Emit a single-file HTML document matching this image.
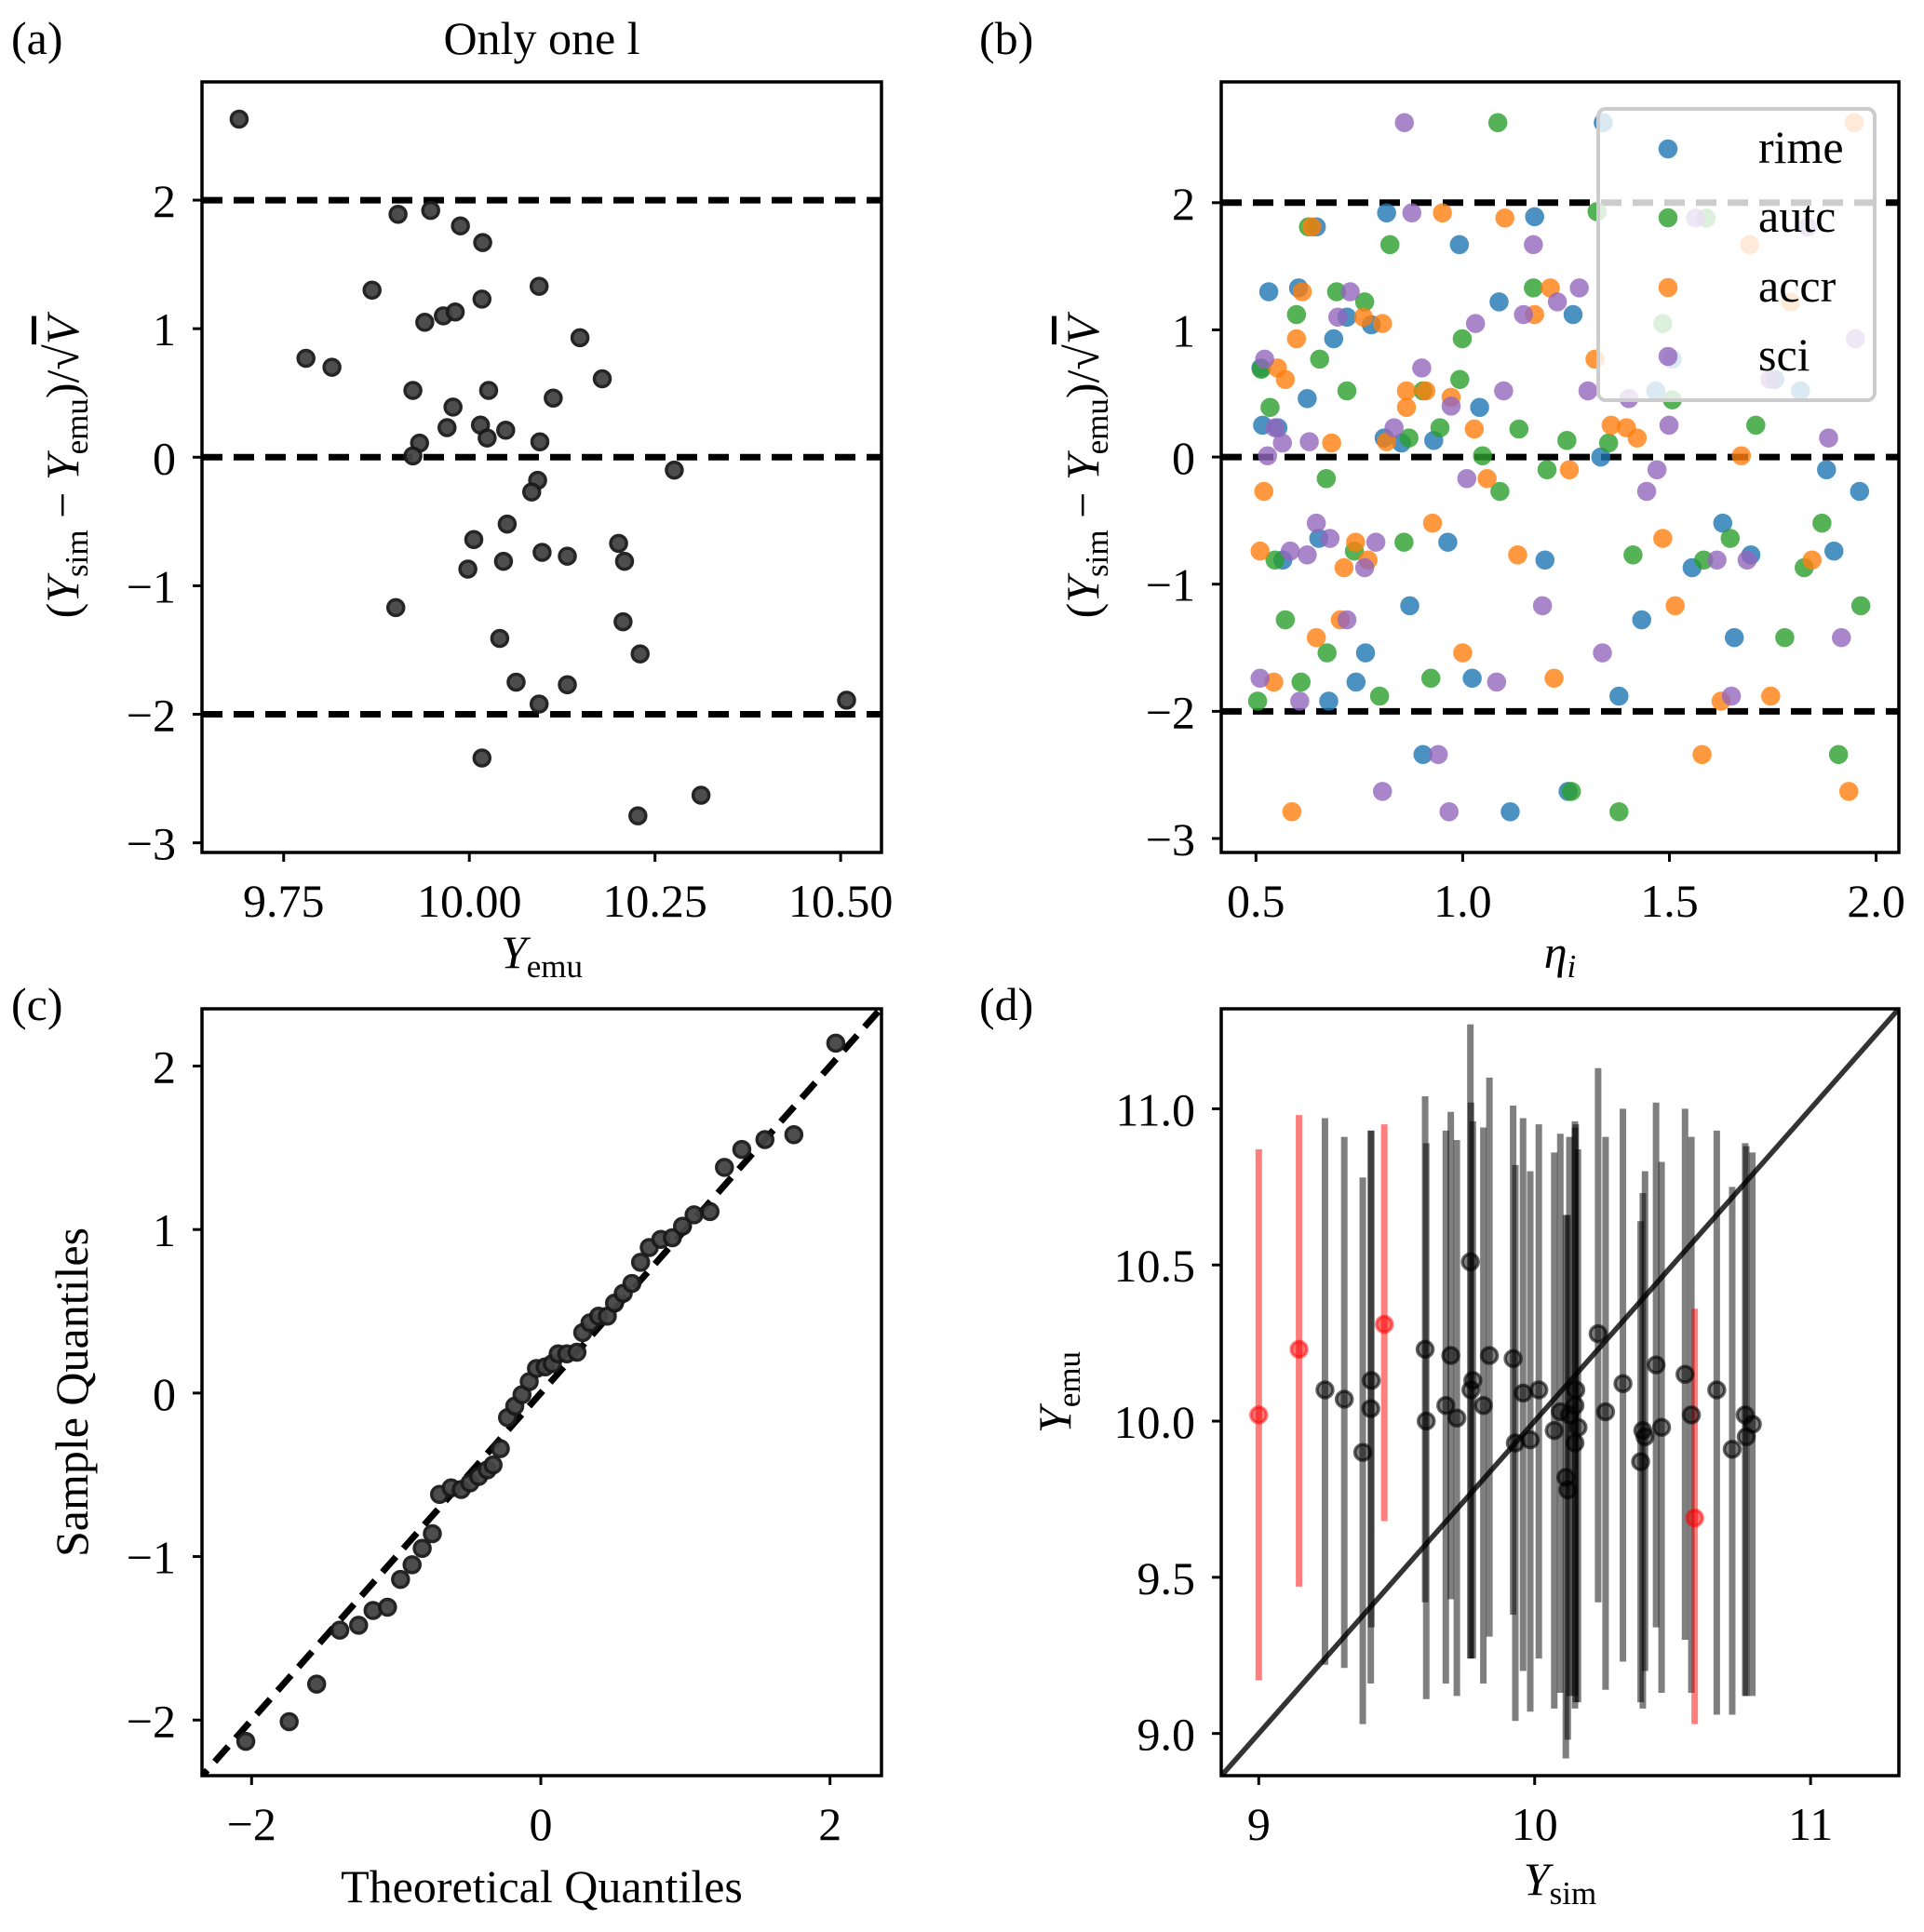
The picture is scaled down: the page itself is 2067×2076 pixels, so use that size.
<!DOCTYPE html>
<html><head><meta charset="utf-8">
<style>
html,body{margin:0;padding:0;background:#fff;}
svg{display:block;font-family:"Liberation Serif","DejaVu Serif",serif;}
</style></head>
<body>
<svg id="fig" width="2067" height="2076" viewBox="0 0 2067 2076" xmlns="http://www.w3.org/2000/svg"></svg>
<script>
// ---------- Panel (a) data ----------
const aX = [9.690,9.780,9.815,9.869,9.904,9.948,9.988,10.018,10.094,9.965,9.981,9.940,10.017,10.149,10.179,9.924,10.026,9.978,10.113,9.970,10.015,10.049,10.024,9.933,9.924,10.095,10.276,10.092,10.084,10.051,10.006,10.201,10.209,9.998,10.046,10.098,10.132,9.901,10.207,10.041,10.230,10.063,10.132,10.094,10.508,10.017,10.312,10.227];
const aY = [2.63,0.77,0.70,1.30,1.89,1.92,1.80,1.67,1.33,1.10,1.13,1.05,1.23,0.93,0.61,0.52,0.52,0.39,0.46,0.23,0.25,0.21,0.15,0.11,0.01,0.12,-0.10,-0.18,-0.27,-0.52,-0.64,-0.67,-0.81,-0.87,-0.81,-0.74,-0.77,-1.17,-1.28,-1.41,-1.53,-1.75,-1.77,-1.92,-1.89,-2.34,-2.63,-2.79];
const aXTicks = [9.75,10.00,10.25,10.50];
const aXTickLabels = ["9.75","10.00","10.25","10.50"];
const resTicks = [-3,-2,-1,0,1,2];
const resTickLabels = ["\u22123","\u22122","\u22121","0","1","2"];
const refLines = [-2,0,2];

// ---------- Panel (b) data ----------
const rimeX = [1.34,0.816,0.646,1.174,0.992,0.531,0.603,1.088,1.267,0.72,0.779,0.688,0.512,0.624,1.041,0.516,0.553,0.81,0.852,0.93,1.334,1.467,1.507,1.817,1.755,1.88,1.96,1.629,0.652,0.964,0.565,1.199,1.555,1.697,1.898,0.872,1.433,0.765,1.657,0.742,1.023,0.676,1.378,0.904,1.255,1.115];
const rimeY = [2.63,1.92,1.81,1.89,1.67,1.30,1.33,1.22,1.12,1.10,1.04,0.93,0.70,0.46,0.39,0.25,0.23,0.15,0.11,0.13,0.00,0.52,0.77,0.52,0.61,-0.10,-0.27,-0.52,-0.64,-0.67,-0.81,-0.81,-0.87,-0.77,-0.74,-1.17,-1.28,-1.54,-1.42,-1.77,-1.74,-1.92,-1.88,-2.34,-2.63,-2.79];
const autcX = [1.085,1.325,1.589,0.627,0.824,0.695,0.763,0.598,1.171,0.999,0.654,0.513,0.993,0.72,0.904,0.534,1.507,0.945,1.136,1.709,0.87,1.252,1.353,1.048,0.67,1.204,1.09,1.869,1.647,0.858,0.738,0.546,1.412,1.583,1.826,1.963,0.571,1.779,0.672,0.923,0.609,0.799,0.504,1.909,1.263,1.378,1.484];
const autcY = [2.63,1.93,1.88,1.81,1.67,1.30,1.22,1.12,1.33,0.93,0.77,0.69,0.61,0.52,0.52,0.39,0.45,0.23,0.22,0.25,0.15,0.13,0.11,0.01,-0.17,-0.10,-0.27,-0.52,-0.64,-0.67,-0.74,-0.81,-0.77,-0.81,-0.87,-1.17,-1.28,-1.42,-1.54,-1.74,-1.77,-1.88,-1.92,-2.34,-2.63,-2.79,1.05];
const accrX = [1.947,0.951,1.102,1.694,0.635,0.612,1.212,1.793,1.174,0.76,0.806,0.598,1.32,0.552,0.571,0.864,0.911,0.864,0.972,1.028,1.359,1.396,1.422,0.683,0.816,1.674,0.519,1.059,1.258,0.927,1.484,0.741,0.51,1.133,0.771,1.845,0.713,1.514,0.704,0.646,1.0,0.543,1.221,1.745,1.625,1.579,0.587,1.934];
const accrY = [2.63,1.92,1.88,1.67,1.81,1.30,1.33,1.22,1.12,1.10,1.05,0.93,0.77,0.70,0.61,0.52,0.52,0.39,0.47,0.22,0.25,0.23,0.15,0.11,0.12,0.01,-0.27,-0.17,-0.10,-0.52,-0.64,-0.67,-0.74,-0.77,-0.81,-0.81,-0.87,-1.17,-1.28,-1.42,-1.54,-1.77,-1.74,-1.88,-1.92,-2.34,-2.79,-2.63];
const sciX = [0.859,0.877,1.563,1.834,1.171,0.728,1.282,1.229,1.147,0.698,1.031,1.95,0.521,0.901,1.099,1.303,1.743,1.402,0.972,0.834,0.546,1.499,1.885,0.564,0.629,0.528,1.01,1.47,1.445,0.646,0.679,0.79,0.583,0.624,0.763,1.615,1.688,1.193,0.72,1.916,1.338,0.51,1.082,0.606,1.65,0.941,0.806,0.967];
const sciY = [2.63,1.92,1.88,1.81,1.67,1.30,1.33,1.22,1.12,1.10,1.05,0.93,0.77,0.70,0.52,0.52,0.61,0.46,0.40,0.23,0.23,0.25,0.15,0.11,0.12,0.01,-0.17,-0.10,-0.27,-0.52,-0.64,-0.67,-0.74,-0.77,-0.87,-0.81,-0.81,-1.17,-1.28,-1.42,-1.54,-1.74,-1.77,-1.92,-1.88,-2.34,-2.63,-2.79];
const seriesNames = ["rime","autc","accr","sci"];
const seriesColors = ["#1f77b4","#2ca02c","#ff7f0e","#9467bd"];
const bXTicks = [0.5,1.0,1.5,2.0];
const bXTickLabels = ["0.5","1.0","1.5","2.0"];

// ---------- Panel (c) data ----------
const qTheo = [-2.04,-1.74,-1.55,-1.39,-1.26,-1.16,-1.06,-0.97,-0.89,-0.82,-0.75,-0.70,-0.62,-0.55,-0.49,-0.43,-0.37,-0.33,-0.28,-0.23,-0.18,-0.13,-0.08,-0.03,0.03,0.08,0.12,0.18,0.25,0.29,0.34,0.40,0.46,0.51,0.57,0.63,0.69,0.75,0.83,0.91,0.98,1.06,1.17,1.27,1.39,1.55,1.75,2.04];
const qSample = [-2.13,-2.01,-1.78,-1.45,-1.42,-1.33,-1.31,-1.14,-1.05,-0.95,-0.86,-0.62,-0.58,-0.59,-0.55,-0.51,-0.47,-0.44,-0.34,-0.15,-0.08,-0.01,0.07,0.15,0.16,0.18,0.24,0.24,0.25,0.37,0.43,0.47,0.47,0.55,0.61,0.67,0.80,0.89,0.94,0.95,1.02,1.09,1.11,1.38,1.49,1.55,1.58,2.14];
const cTicks = [-2,0,2];
const cTickLabels = ["\u22122","0","2"];
const cYTicks = [-2,-1,0,1,2];
const cYTickLabels = ["\u22122","\u22121","0","1","2"];

// ---------- Panel (d) data ----------
const dSim = [9.24,9.31,9.377,9.408,9.406,9.603,9.607,9.678,9.696,9.718,9.767,9.776,9.769,9.814,9.836,9.922,9.93,9.958,9.984,10.015,10.071,10.093,10.113,10.12,10.126,10.149,10.146,10.157,10.146,10.23,10.257,10.32,10.384,10.392,10.40,10.44,10.46,10.545,10.568,10.66,10.716,10.763,10.767,10.789];
const dEmu = [10.10,10.07,9.90,10.13,10.04,10.23,10.00,10.05,10.21,10.01,10.51,10.13,10.10,10.05,10.21,10.20,9.93,10.09,9.94,10.10,9.97,10.03,9.82,9.78,10.02,10.10,10.05,9.98,9.93,10.28,10.03,10.12,9.87,9.97,9.95,10.18,9.98,10.15,10.02,10.10,9.91,10.02,9.95,9.99];
const dHi = [10.97,10.91,10.78,10.93,10.93,11.04,10.89,10.93,10.99,10.90,11.27,10.96,11.02,10.94,11.10,11.01,10.82,10.97,10.80,10.95,10.86,10.92,10.66,10.66,10.91,10.95,10.94,10.87,10.96,11.13,10.91,11.0,10.64,10.73,10.80,11.02,10.83,11.0,10.91,10.93,10.75,10.89,10.88,10.86];
const dLo = [9.22,9.21,9.03,9.34,9.16,9.42,9.11,9.16,9.43,9.12,9.24,9.24,9.24,9.16,9.31,9.38,9.04,9.20,9.07,9.24,9.08,9.13,8.92,8.98,9.12,9.10,9.08,9.10,9.12,9.42,9.14,9.23,9.10,9.08,9.20,9.34,9.13,9.30,9.13,9.06,9.06,9.12,9.12,9.12];
const outSim = [9.0,9.146,9.455,10.58];
const outEmu = [10.02,10.23,10.31,9.69];
const outHi = [10.87,10.98,10.95,10.36];
const outLo = [9.17,9.47,9.68,9.03];
const dXTicks = [9,10,11];
const dXTickLabels = ["9","10","11"];
const dYTicks = [9.0,9.5,10.0,10.5,11.0];
const dYTickLabels = ["9.0","9.5","10.0","10.5","11.0"];

const NS = "http://www.w3.org/2000/svg";
const svg = document.getElementById("fig");
const FS = 50, SUB = 35;
function el(tag, attrs, parent){
  const e = document.createElementNS(NS, tag);
  for (const k in attrs) e.setAttribute(k, attrs[k]);
  (parent||svg).appendChild(e);
  return e;
}
function scale(d0,d1,r0,r1){ return v => r0 + (v-d0)/(d1-d0)*(r1-r0); }

function makeAxes(name, L, R, T, B, xd, yd){
  const g = el("g", {});
  
  
  const clipId = name + "-clip";
  const cp = el("clipPath", {id: clipId}, g);
  el("rect", {x:L, y:T, width:R-L, height:B-T}, cp);
  const plot = el("g", {"clip-path": "url(#"+clipId+")"}, g);
  
  
  return {g, plot, L, R, T, B, sx: scale(xd[0],xd[1],L,R), sy: scale(yd[0],yd[1],B,T)};
}
function drawFrame(ax){
  const f = el("rect", {x:ax.L, y:ax.T, width:ax.R-ax.L, height:ax.B-ax.T, fill:"none", stroke:"#000", "stroke-width":3.5}, ax.g);
  
  
}
function xTicks(ax, vals, labels){
  vals.forEach((v,i)=>{
    const x = ax.sx(v);
    const t = el("line", {x1:x, x2:x, y1:ax.B, y2:ax.B+10, stroke:"#000", "stroke-width":3}, ax.g);
    
    
    const tx = el("text", {x:x, y:ax.B+69, "font-size":FS, "text-anchor":"middle"}, ax.g);
    
    
    tx.textContent = labels[i];
  });
}
function yTicks(ax, vals, labels){
  vals.forEach((v,i)=>{
    const y = ax.sy(v);
    const t = el("line", {x1:ax.L-10, x2:ax.L, y1:y, y2:y, stroke:"#000", "stroke-width":3}, ax.g);
    
    
    const tx = el("text", {x:ax.L-28, y:y+18, "font-size":FS, "text-anchor":"end"}, ax.g);
    
    
    tx.textContent = labels[i];
  });
}
function hDashed(ax, v){
  const y = ax.sy(v);
  const l = el("line", {x1:ax.L, x2:ax.R, y1:y, y2:y, stroke:"#000", "stroke-width":7, "stroke-dasharray":"22 12"}, ax.plot);
  
  
}
function dot(ax, x, y, fill, stroke, r, op){
  return el("circle", {cx:ax.sx(x), cy:ax.sy(y), r:r, fill:fill, stroke:stroke, "stroke-width":3.5, opacity:op}, ax.plot);
}
function label(txt, x, y, name, anchor){
  const t = el("text", {x:x, y:y, "font-size":FS, "text-anchor":anchor||"start"});
  
  
  t.textContent = txt;
  return t;
}
function resLabel(x, y, name){
  const t = el("text", {x:0, y:0, "font-size":FS, "text-anchor":"middle", transform:"translate("+x+","+y+") rotate(-90)"});
  
  
  t.innerHTML = '(<tspan font-style="italic">Y</tspan><tspan font-size="'+SUB+'" dy="10">sim</tspan><tspan dy="-10"> \u2212 </tspan><tspan font-style="italic">Y</tspan><tspan font-size="'+SUB+'" dy="10">emu</tspan><tspan dy="-10">)/\u221A</tspan><tspan font-style="italic" text-decoration="overline">V</tspan>';
}

// ===== Panel (a) =====
const A = makeAxes("panel-a", 217, 947, 88, 916, [9.64,10.555], [-3.075,2.92]);
refLines.forEach(v=>hDashed(A,v));
aX.forEach((x,i)=>{
  const c = dot(A, x, aY[i], "#444", "#1a1a1a", 8.5, 0.95);
  
  
});
drawFrame(A);
xTicks(A, aXTicks, aXTickLabels);
yTicks(A, resTicks, resTickLabels);
label("(a)", 12, 58, "panel-a-label");
label("Only one l", 582, 58, "panel-a-title", "middle");
resLabel(84, 502, "panel-a-y-axis-title");
(function(){
  const t = label("", 582, 1040, "panel-a-x-axis-title", "middle");
  t.innerHTML = '<tspan font-style="italic">Y</tspan><tspan font-size="'+SUB+'" dy="10">emu</tspan>';
})();

// ===== Panel (b) =====
const B = makeAxes("panel-b", 1312, 2040, 88, 916, [0.416,2.055], [-3.11,2.95]);
refLines.forEach(v=>hDashed(B,v));
const bXs = [rimeX, autcX, accrX, sciX];
const bYs = [rimeY, autcY, accrY, sciY];
bXs.forEach((xs,s)=>{
  xs.forEach((x,i)=>{
    const c = dot(B, x, bYs[s][i], seriesColors[s], seriesColors[s], 8.5, 0.8);
    
    
  });
});
drawFrame(B);
xTicks(B, bXTicks, bXTickLabels);
yTicks(B, resTicks, resTickLabels);
label("(b)", 1052, 58, "panel-b-label");
resLabel(1180, 502, "panel-b-y-axis-title");
(function(){
  const t = label("", 1676, 1040, "panel-b-x-axis-title", "middle");
  t.innerHTML = '<tspan font-style="italic">\u03B7</tspan><tspan font-size="'+SUB+'" dy="10" font-style="italic">i</tspan>';
})();
(function(){
  const g = el("g", {});
  
  
  const r = el("rect", {x:1717, y:117, width:297, height:313, rx:8, fill:"rgba(255,255,255,0.8)", stroke:"#ccc", "stroke-width":4}, g);
  
  
  const rows = [160, 234, 309, 383];
  seriesNames.forEach((n,i)=>{
    const c = el("circle", {cx:1792, cy:rows[i], r:8.5, fill:seriesColors[i], stroke:seriesColors[i], "stroke-width":3.5, opacity:0.8}, g);
    
    
    const t = el("text", {x:1889, y:rows[i]+15, "font-size":FS}, g);
    
    
    t.textContent = n;
  });
})();

// ===== Panel (c) =====
const C = makeAxes("panel-c", 217, 947, 1084, 1908, [-2.343,2.356], [-2.34,2.35]);
(function(){
  const l = el("line", {x1:C.sx(-2.4), y1:C.sy(-2.4), x2:C.sx(2.4), y2:C.sy(2.4), stroke:"#000", "stroke-width":7, "stroke-dasharray":"22 12"}, C.plot);
  
  
})();
qTheo.forEach((x,i)=>{
  const c = dot(C, x, qSample[i], "#444", "#1a1a1a", 8.5, 0.95);
  
  
});
drawFrame(C);
xTicks(C, cTicks, cTickLabels);
yTicks(C, cYTicks, cYTickLabels);
label("(c)", 12, 1096, "panel-c-label");
label("Theoretical Quantiles", 582, 2044, "panel-c-x-axis-title", "middle");
(function(){
  const t = el("text", {x:0, y:0, "font-size":FS, "text-anchor":"middle", transform:"translate(94,1496) rotate(-90)"});
  
  
  t.textContent = "Sample Quantiles";
})();

// ===== Panel (d) =====
const D = makeAxes("panel-d", 1312, 2040, 1084, 1908, [8.864,11.32], [8.865,11.32]);
dSim.forEach((x,i)=>{
  const l = el("line", {x1:D.sx(x), x2:D.sx(x), y1:D.sy(dLo[i]), y2:D.sy(dHi[i]), stroke:"rgba(0,0,0,0.5)", "stroke-width":7}, D.plot);
  
  
});
outSim.forEach((x,i)=>{
  const l = el("line", {x1:D.sx(x), x2:D.sx(x), y1:D.sy(outLo[i]), y2:D.sy(outHi[i]), stroke:"rgba(255,0,0,0.5)", "stroke-width":7}, D.plot);
  
  
});
dSim.forEach((x,i)=>{
  const c = dot(D, x, dEmu[i], "rgba(0,0,0,0.5)", "rgba(0,0,0,0.6)", 8.5, 1);
  
  
});
outSim.forEach((x,i)=>{
  const c = dot(D, x, outEmu[i], "rgba(255,0,0,0.55)", "rgba(255,0,0,0.5)", 8.5, 1);
  
  
});
(function(){
  const l = el("line", {x1:D.sx(8.8), y1:D.sy(8.8), x2:D.sx(11.4), y2:D.sy(11.4), stroke:"rgba(0,0,0,0.8)", "stroke-width":5.5}, D.plot);
  
  
})();
drawFrame(D);
xTicks(D, dXTicks, dXTickLabels);
yTicks(D, dYTicks, dYTickLabels);
label("(d)", 1052, 1096, "panel-d-label");
(function(){
  const t = label("", 1676, 2036, "panel-d-x-axis-title", "middle");
  t.innerHTML = '<tspan font-style="italic">Y</tspan><tspan font-size="'+SUB+'" dy="10">sim</tspan>';
  const y = el("text", {x:0, y:0, "font-size":FS, "text-anchor":"middle", transform:"translate(1150,1496) rotate(-90)"});
  
  
  y.innerHTML = '<tspan font-style="italic">Y</tspan><tspan font-size="'+SUB+'" dy="10">emu</tspan>';
})();
</script>
</body></html>
